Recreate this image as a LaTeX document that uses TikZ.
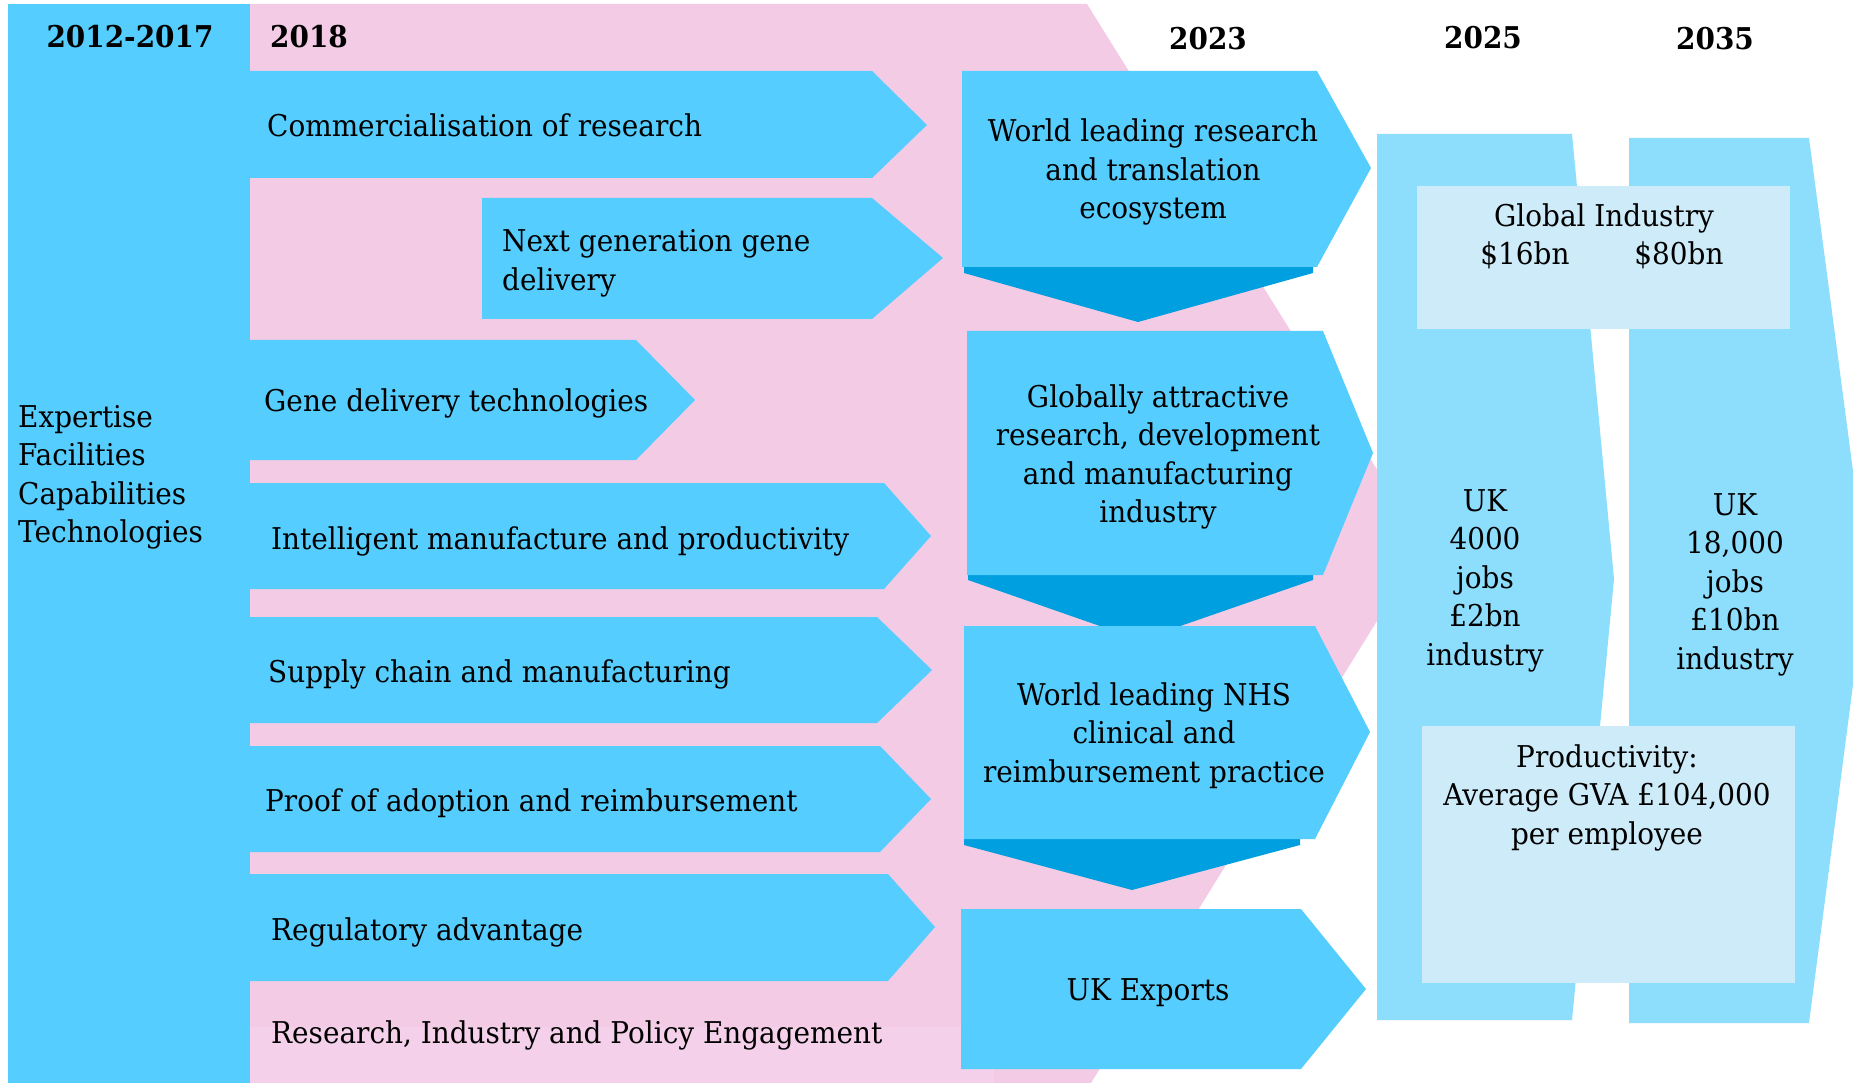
\documentclass[tikz,border=0pt]{standalone}
\usepackage{fontspec}
\setmainfont{DejaVu Serif}[FakeStretch=0.93]
\definecolor{mainblue}{RGB}{85,205,254}
\definecolor{darkblue}{RGB}{0,160,224}
\definecolor{colblue}{RGB}{141,222,253}
\definecolor{paleblue}{RGB}{205,235,248}
\definecolor{pinkbg}{RGB}{243,203,229}
\definecolor{pinklt}{RGB}{245,208,234}
\newcommand{\mlc}[1]{\begin{tabular}[t]{@{}c@{}}#1\end{tabular}}
\newcommand{\mll}[1]{\begin{tabular}[t]{@{}l@{}}#1\end{tabular}}
\tikzset{
  chev/.style={fill=mainblue},
  drop/.style={fill=darkblue},
  col/.style={fill=colblue},
  pale/.style={fill=paleblue},
  txt/.style={font=\fontsize{30}{38.5}\selectfont, inner sep=0pt, anchor=base west},
  ctxt/.style={font=\fontsize{30}{38.5}\selectfont, inner sep=0pt, anchor=base},
  yr/.style={font=\fontsize{30}{36}\selectfont\bfseries, inner sep=0pt, anchor=base},
}
\begin{document}
\begin{tikzpicture}[x=1pt,y=-1pt]
\useasboundingbox (0,0) rectangle (1853,1083);
\fill[white] (0,0) rectangle (1853,1083);
\begin{scope}
\clip (0,0) rectangle (1853,1083);
% pink background chevron
\fill[pinkbg] (250,4) -- (1087,4) -- (1424,545) -- (1091,1083) -- (250,1083) -- cycle;
\fill[pinklt] (250,1027) rectangle (994,1083);
% left column
\fill[chev] (8,4) rectangle (250,1083);
% row arrows
\fill[chev] (250,71) -- (872,71) -- (927,125) -- (872,178) -- (250,178) -- cycle;
\fill[chev] (482,198) -- (872,198) -- (943,258) -- (872,319) -- (482,319) -- cycle;
\fill[chev] (250,340) -- (636,340) -- (695,400) -- (636,460) -- (250,460) -- cycle;
\fill[chev] (250,483) -- (884,483) -- (931,536) -- (884,589) -- (250,589) -- cycle;
\fill[chev] (250,617) -- (877,617) -- (932,670) -- (877,723) -- (250,723) -- cycle;
\fill[chev] (250,746) -- (880,746) -- (931,799) -- (880,852) -- (250,852) -- cycle;
\fill[chev] (250,874) -- (888,874) -- (935,927) -- (888,981) -- (250,981) -- cycle;
% 2023 boxes with drop shapes
\fill[drop] (964,267) -- (1313,267) -- (1313,273) -- (1138,322) -- (964,273) -- cycle;
\fill[chev] (962,71) -- (1317,71) -- (1371,168) -- (1317,267) -- (962,267) -- cycle;
\fill[drop] (968,575) -- (1313,575) -- (1313,580) -- (1140,640) -- (968,580) -- cycle;
\fill[chev] (967,331) -- (1323,331) -- (1373,453) -- (1323,575) -- (967,575) -- cycle;
\fill[drop] (964,839) -- (1300,839) -- (1300,845) -- (1132,890) -- (964,845) -- cycle;
\fill[chev] (964,626) -- (1315,626) -- (1370,732) -- (1315,839) -- (964,839) -- cycle;
\fill[chev] (961,909) -- (1301,909) -- (1366,989) -- (1301,1069) -- (961,1069) -- cycle;
% right columns
\fill[col] (1377,134) -- (1572,134) -- (1614,579) -- (1572,1020) -- (1377,1020) -- cycle;
\fill[col] (1629,138) -- (1809,138) -- (1867,577) -- (1809,1023) -- (1629,1023) -- cycle;
\fill[pale] (1417,186) rectangle (1790,329);
\fill[pale] (1422,726) rectangle (1795,983);
\end{scope}
% headers
\node[yr] (h1) at (130,48) {2012-2017};
\node[yr, anchor=base west] (h2) at (270,48) {2018};
\node[yr] (h3) at (1208,50) {2023};
\node[yr] (h4) at (1483,49) {2025};
\node[yr] (h5) at (1715,50) {2035};
% left column text
\node[txt] (lc) at (18,427) {\mll{Expertise\\Facilities\\Capabilities\\Technologies}};
% row labels
\node[txt] (t1) at (267,137) {Commercialisation of research};
\node[txt] (t2) at (502,252) {\mll{Next generation gene\\delivery}};
\node[txt] (t3) at (264,411) {Gene delivery technologies};
\node[txt] (t4) at (271,549) {Intelligent manufacture and productivity};
\node[txt] (t5) at (268,682) {Supply chain and manufacturing};
\node[txt] (t6) at (265,811) {Proof of adoption and reimbursement};
\node[txt] (t7) at (271,940) {Regulatory advantage};
\node[txt] (t8) at (271,1043) {Research, Industry and Policy Engagement};
% 2023 labels
\node[ctxt] (a) at (1153,142) {\mlc{World leading research\\and translation\\ecosystem}};
\node[ctxt] (b) at (1158,407) {\mlc{Globally attractive\\research, development\\and manufacturing\\industry}};
\node[ctxt] (c) at (1154,705) {\mlc{World leading NHS\\clinical and\\reimbursement practice}};
\node[ctxt] (d) at (1148,1000) {UK Exports};
% 2025 / 2035
\node[ctxt] (g) at (1604,227) {Global Industry};
\node[ctxt] (g1) at (1525,265) {\$16bn};
\node[ctxt] (g2) at (1679,265) {\$80bn};
\node[ctxt] (u1) at (1485,511) {\mlc{UK\\4000\\jobs\\£2bn\\industry}};
\node[ctxt] (u2) at (1735,515) {\mlc{UK\\18,000\\jobs\\£10bn\\industry}};
\node[ctxt] (p) at (1607,767) {\mlc{Productivity:\\Average GVA £104,000\\per employee}};
\end{tikzpicture}
\end{document}
